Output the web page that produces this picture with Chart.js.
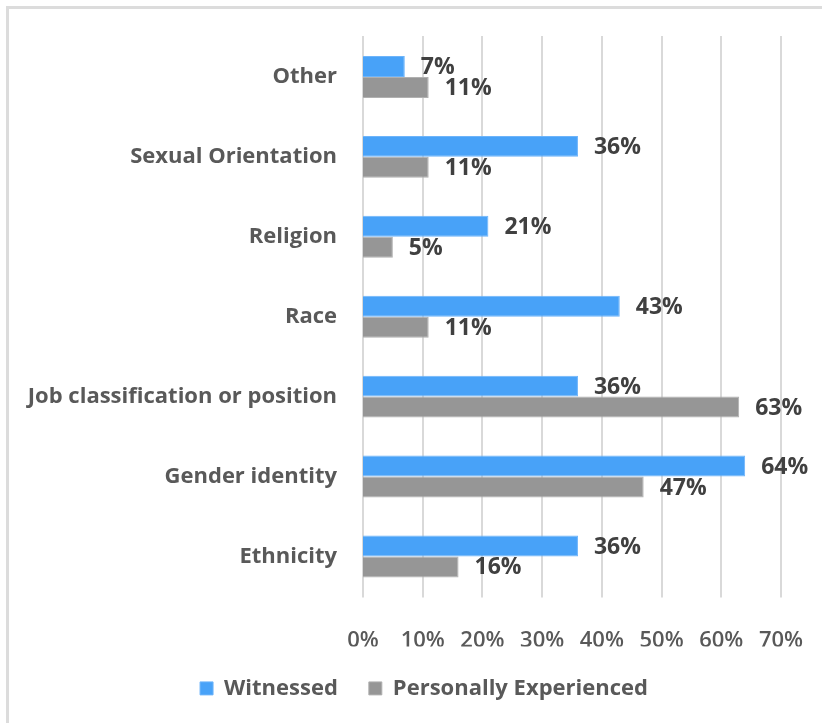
<!DOCTYPE html>
<html lang="en">
<head>
  <meta charset="UTF-8">
  <title>Discrimination Witnessed vs Experienced</title>
  <script src="https://cdn.jsdelivr.net/npm/chart.js"></script>
  <style>
    html, body { margin: 0; padding: 0; background: #fff; }
    #wrap { position: relative; width: 822px; height: 723px; }
    #frame {
      position: absolute; left: 6px; top: 6px; right: -10px; bottom: -10px;
      border-top: 3px solid #dcdcdc; border-left: 3px solid #dcdcdc;
    }
    #chart { position: absolute; left: 0; top: 0; }
  </style>
</head>
<body>
  <div id="wrap">
    <div id="frame"></div>
    <canvas id="chart" width="822" height="723"></canvas>
  </div>

  <script>
    const categories = ['Other', 'Sexual Orientation', 'Religion', 'Race',
      'Job classification or position', 'Gender identity', 'Ethnicity'];
    const witnessed = [7, 36, 21, 43, 36, 64, 36];
    const experienced = [11, 11, 5, 11, 63, 47, 16];
    const seriesNames = ['Witnessed', 'Personally Experienced'];

    const FONT = '"Open Sans", "Noto Sans", sans-serif';

    // vertical gridlines, kept inside the plot area
    const xGrid = {
      id: 'xGrid',
      beforeDatasetsDraw(chart) {
        const { ctx, chartArea, scales } = chart;
        ctx.save();
        ctx.strokeStyle = '#d9d9d9';
        ctx.lineWidth = 2;
        scales.x.ticks.forEach((t, i) => {
          const px = Math.round(scales.x.getPixelForTick(i));
          ctx.beginPath();
          ctx.moveTo(px, chartArea.top - 1);
          ctx.lineTo(px, chartArea.bottom + 1);
          ctx.stroke();
        });
        ctx.restore();
      }
    };

    // value labels just past the end of each bar
    const barLabels = {
      id: 'barLabels',
      afterDatasetsDraw(chart) {
        const ctx = chart.ctx;
        ctx.save();
        ctx.font = 'bold 23px ' + FONT;
        ctx.fillStyle = '#404040';
        ctx.textAlign = 'left';
        ctx.textBaseline = 'middle';
        chart.data.datasets.forEach((ds, i) => {
          chart.getDatasetMeta(i).data.forEach((bar, j) => {
            ctx.fillText(ds.data[j] + '%', bar.x + 16, bar.y + 1);
          });
        });
        ctx.restore();
      }
    };

    new Chart(document.getElementById('chart'), {
      type: 'bar',
      data: {
        labels: categories,
        datasets: [{
          label: seriesNames[0],
          data: witnessed,
          backgroundColor: '#48a2f8',
          borderColor: '#6db4fa',
          borderWidth: 1,
          categoryPercentage: 0.525,
          barPercentage: 1
        }, {
          label: seriesNames[1],
          data: experienced,
          backgroundColor: '#969696',
          borderColor: '#b0b0b0',
          borderWidth: 1,
          categoryPercentage: 0.525,
          barPercentage: 1
        }]
      },
      options: {
        indexAxis: 'y',
        responsive: false,
        animation: false,
        layout: { padding: { top: 37, right: 0, left: 26, bottom: 13.6 } },
        scales: {
          x: {
            min: 0,
            max: 70,
            ticks: {
              stepSize: 10,
              padding: 23,
              color: '#595959',
              font: { family: FONT, size: 22, weight: '600' },
              callback: v => v + '%'
            },
            grid: { display: false },
            border: { display: false },
            afterFit: s => { s.height = 50; s.paddingRight = 41; }
          },
          y: {
            ticks: {
              padding: 26,
              color: '#595959',
              font: { family: FONT, size: 22, weight: 'bold' }
            },
            grid: { display: false, drawTicks: false },
            border: { display: false },
            afterFit: s => { s.width = 337; s.paddingTop = 0; s.paddingBottom = 0; }
          }
        },
        plugins: {
          legend: {
            position: 'bottom',
            labels: {
              boxWidth: 13,
              boxHeight: 13,
              padding: 31,
              color: '#595959',
              font: { family: FONT, size: 22, weight: 'bold' }
            }
          },
          tooltip: { enabled: false }
        }
      },
      plugins: [xGrid, barLabels]
    });
  </script>
</body>
</html>
